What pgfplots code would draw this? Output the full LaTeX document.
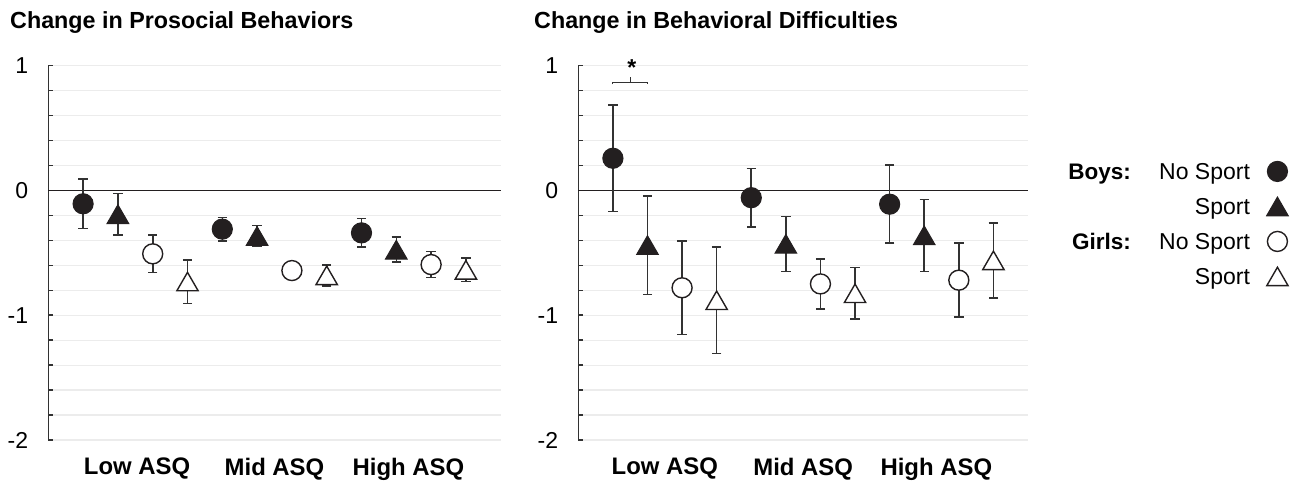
\documentclass[border=0pt]{standalone}
\usepackage{pgfplots}
\pgfplotsset{compat=1.18}
\usepackage{pgfplotstable}
\usepackage{fontspec}
\setmainfont{Liberation Sans}

\definecolor{ink}{RGB}{35,31,32}
\definecolor{ebar}{RGB}{50,50,50}
\definecolor{gridc}{RGB}{236,236,236}

% Prosocial behaviors
\pgfplotstableread{
x y e
1 -0.107 0.198
5 -0.310 0.094
9 -0.340 0.114
}\LBN
\pgfplotstableread{
x y e
2 -0.190 0.166
6 -0.365 0.085
10 -0.475 0.100
}\LBS
\pgfplotstableread{
x y e
3 -0.508 0.150
7 -0.642 0.030
11 -0.594 0.105
}\LGN
\pgfplotstableread{
x y e
4 -0.730 0.175
8 -0.680 0.084
12 -0.636 0.095
}\LGS
% Behavioral difficulties
\pgfplotstableread{
x y e
1 0.258 0.426
5 -0.058 0.234
9 -0.110 0.313
}\RBN
\pgfplotstableread{
x y e
2 -0.438 0.395
6 -0.428 0.220
10 -0.360 0.288
}\RBS
\pgfplotstableread{
x y e
3 -0.780 0.374
7 -0.749 0.200
11 -0.719 0.297
}\RGN
\pgfplotstableread{
x y e
4 -0.880 0.428
8 -0.824 0.207
12 -0.560 0.300
}\RGS

\pgfplotsset{
  panel/.style={
    scale only axis,
    height=374.3pt,
    xmin=0, xmax=13, ymin=-2, ymax=1,
    axis x line*=bottom, axis y line*=left,
    x axis line style={draw=none},
    y axis line style={draw=ebar, line width=1.6pt},
    xtick={2.5,6.5,10.35},
    xticklabels={Low ASQ, Mid ASQ, High ASQ},
    major x tick style={draw=none},
    xticklabel style={font=\bfseries\fontsize{23.9}{28}\selectfont, inner sep=0pt, anchor=north, yshift=-18pt},
    ytick={-2,-1,0,1},
    yticklabels={-2,-1,0,1},
    minor ytick={-1.8,-1.6,-1.4,-1.2,-0.8,-0.6,-0.4,-0.2,0.2,0.4,0.6,0.8},
    ymajorgrids, yminorgrids,
    major grid style={draw=gridc, line width=1.2pt},
    minor grid style={draw=gridc, line width=1.2pt},
    tick align=inside,
    major tick length=5pt, minor tick length=5pt,
    every tick/.style={draw=ebar, line width=1.5pt},
    yticklabel style={font=\fontsize{23}{27}\selectfont, inner sep=0pt, anchor=east, xshift=-20pt},
    clip=false,
    error bars/y dir=both,
    error bars/y explicit,
    error bars/error bar style={draw=ebar, line width=1.6pt},
    error bars/error mark options={draw=ebar, line width=1.6pt, mark size=4.7pt, rotate=90},
  },
  bn/.style={only marks, mark=*, mark size=10.1pt, mark options={fill=ink, draw=ink, line width=1pt}},
  bs/.style={only marks, mark=triangle*, mark size=12.5pt, mark options={fill=ink, draw=ink, line width=1pt, yshift=-3.1pt}},
  gn/.style={only marks, mark=*, mark size=10pt, mark options={fill=white, draw=ink, line width=1.4pt}},
  gs/.style={only marks, mark=triangle*, mark size=12.3pt, mark options={fill=white, draw=ink, line width=1.4pt, yshift=-3.1pt}},
}

\begin{document}
\begin{tikzpicture}
\path[use as bounding box] (0pt,0pt) rectangle (1303pt,481pt);

% Left panel
\begin{axis}[panel, width=452.4pt, at={(48.3pt,41pt)}, anchor=south west, xtick={2.55,6.5,10.35}]
\addplot[ink, line width=1.3pt, forget plot] coordinates {(0,0) (13,0)};
\addplot[bn] table[x=x, y=y, y error=e] {\LBN};
\addplot[bs] table[x=x, y=y, y error=e] {\LBS};
\addplot[gn] table[x=x, y=y, y error=e] {\LGN};
\addplot[gs] table[x=x, y=y, y error=e] {\LGS};
\end{axis}

% Right panel
\begin{axis}[panel, width=449.7pt, at={(578.3pt,41pt)}, anchor=south west,
  legend style={draw=none, fill=none, inner sep=0pt, outer sep=0pt,
    at={(1.578,0.739)}, anchor=north east,
    font=\fontsize{23}{27}\selectfont,
    row sep=18.9pt, column sep=17pt,
    nodes={inner sep=0pt, outer sep=0pt, text height=16.1pt, text depth=0pt}},
  legend cell align=right,
  legend plot pos=right,
  legend image code/.code={
    \path[draw=none, fill=none] (0pt,-8.05pt) rectangle (21pt,8.05pt);
    \draw[#1, overlay] plot coordinates {(10.5pt,0pt)};
  },
]
\addplot[ink, line width=1.3pt, forget plot] coordinates {(0,0) (13,0)};
\addplot[bn] table[x=x, y=y, y error=e] {\RBN};
\addplot[bs] table[x=x, y=y, y error=e] {\RBS};
\addplot[gn] table[x=x, y=y, y error=e] {\RGN};
\addplot[gs] table[x=x, y=y, y error=e] {\RGS};
\legend{No Sport, Sport, No Sport, Sport}
% significance bracket
\draw[ebar, line width=1.1pt] (axis cs:1,0.851) -- (axis cs:1,0.867) -- (axis cs:2,0.867) -- (axis cs:2,0.851);
\draw[ebar, line width=1.1pt] (axis cs:1.5,0.867) -- (axis cs:1.5,0.907);
\node[font=\bfseries\fontsize{23}{27}\selectfont, inner sep=0pt, anchor=north] at (axis cs:1.55,1.046) {*};
\end{axis}

% Titles
\node[anchor=base west, inner sep=0pt, font=\bfseries\fontsize{23.3}{27}\selectfont] at (10pt,452.7pt) {Change in Prosocial Behaviors};
\node[anchor=base west, inner sep=0pt, font=\bfseries\fontsize{23.3}{27}\selectfont] at (534pt,452.7pt) {Change in Behavioral Difficulties};

% Legend group labels
\node[anchor=base east, inner sep=0pt, font=\bfseries\fontsize{22.5}{27}\selectfont] at (1131pt,301.7pt) {Boys:};
\node[anchor=base east, inner sep=0pt, font=\bfseries\fontsize{22.5}{27}\selectfont] at (1131pt,231.7pt) {Girls:};
\end{tikzpicture}
\end{document}
